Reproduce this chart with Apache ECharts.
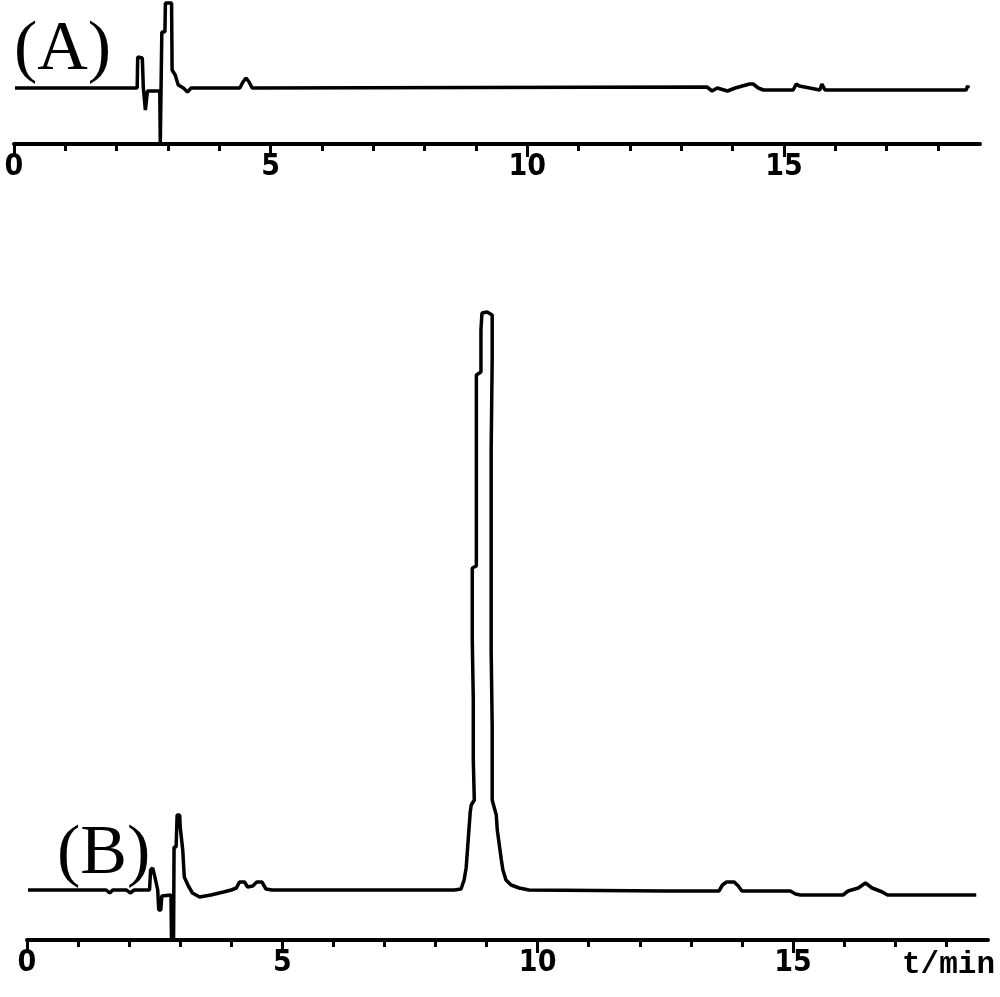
<!DOCTYPE html>
<html>
<head>
<meta charset="utf-8">
<script src="https://cdn.jsdelivr.net/npm/echarts@6/dist/echarts.min.js"></script>
<style>html,body{margin:0;padding:0;background:#fff;}#c{width:1000px;height:997px;}</style>
</head>
<body>
<div id="c"></div>
<script>
// Tick values (min)
var majorTicks = [0, 5, 10, 15];
var minorTicks = [0,1,2,3,4,5,6,7,8,9,10,11,12,13,14,15,16,17,18];

// Chromatogram A: retention time (min) and detector response (arb. units)
var timeA = [0.02,2.40,2.41,2.50,2.52,2.55,2.56,2.59,2.60,2.84,2.85,2.87,2.88,2.94,2.95,3.07,3.08,3.14,3.20,3.30,3.38,3.45,4.40,4.46,4.52,4.58,4.64,13.5,13.6,13.7,13.9,14.05,14.33,14.4,14.5,14.6,15.18,15.24,15.3,15.7,15.74,15.8,18.55,18.58,18.6];
var respA = [0,0,31,30,0,0,-22,-22,-3,-3,-56,-56,56,56,85,85,18,13,3,0,-4,0,0,6,10,6,0,1,-3,0,-3,0,4,4,0,-2,-2,4,2,-2,4,-2,-2,2,0];

// Chromatogram B
var timeB = [0.02,1.55,1.62,1.68,1.95,2.02,2.10,2.40,2.42,2.46,2.50,2.53,2.56,2.58,2.62,2.64,2.82,2.83,2.87,2.88,2.92,2.94,2.99,3.00,3.05,3.08,3.16,3.24,3.38,3.60,3.85,4.00,4.10,4.16,4.26,4.32,4.42,4.50,4.60,4.68,4.80,
  8.37,8.50,8.56,8.60,8.64,8.68,8.70,8.76,8.74,8.74,8.72,8.72,8.80,8.80,8.80,8.89,8.89,8.91,9.01,9.11,9.11,9.09,9.09,9.09,9.11,9.11,9.19,9.21,9.29,9.32,9.38,9.48,9.64,9.83,
  12.5,13.55,13.62,13.70,13.85,13.93,14.00,14.95,15.05,15.15,15.98,16.08,16.28,16.42,16.55,16.75,16.85,18.59];
var respB = [0,0,-3,0,0,-3,0,0,20,22,14,12,0,-20,-20,-6,-5,-50,-50,43,43,75,75,63,40,13,4,-3,-7,-5,-2,0,2,8,8,3,4,8,8,1,0,
  0,1,10,22,50,78,85,90,130,190,250,322,324,410,515,518,560,577,578,575,530,440,340,240,165,90,75,60,30,20,10,5,2,0,
  -1,-1,5,8,8,4,-1,-1,-4,-5,-5,-1,2,7,2,-2,-5,-5];

function pairs(t, v) { return t.map(function (x, i) { return [x, v[i]]; }); }

var tickFont = { color: '#000', fontFamily: 'DejaVu Sans Condensed, DejaVu Sans', fontWeight: 'bold', fontSize: 30 };

function mainAxis(gi) {
  return {
    type: 'value', gridIndex: gi, position: 'bottom', min: 0, max: 18.82,
    axisLine: { show: true, onZero: false, lineStyle: { color: '#000', width: 4 } },
    axisTick: { show: true, customValues: minorTicks, length: 7, lineStyle: { color: '#000', width: 3 } },
    axisLabel: Object.assign({ show: true, customValues: majorTicks, margin: 8 }, tickFont),
    splitLine: { show: false }, minorTick: { show: false }
  };
}
function majorAxis(gi) {
  return {
    type: 'value', gridIndex: gi, position: 'bottom', offset: 0, min: 0, max: 18.82,
    axisLine: { show: false, onZero: false },
    axisTick: { show: true, customValues: majorTicks, length: 13, lineStyle: { color: '#000', width: 3 } },
    axisLabel: { show: false }, splitLine: { show: false }
  };
}

var option = {
  animation: false,
  backgroundColor: '#fff',
  grid: [
    { left: 14, right: 20, top: 0, height: 144 },
    { left: 27, right: 12, top: 300, height: 640 }
  ],
  xAxis: [mainAxis(0), majorAxis(0), mainAxis(1), majorAxis(1)],
  yAxis: [
    { type: 'value', gridIndex: 0, min: -56, max: 88, show: false, splitLine: { show: false } },
    { type: 'value', gridIndex: 1, min: -50, max: 590, show: false, splitLine: { show: false } }
  ],
  graphic: [
    { type: 'text', left: 14, top: 16, style: { text: '(A)', fontFamily: 'Liberation Serif', fontSize: 70, fill: '#000' } },
    { type: 'text', left: 57, top: 820, style: { text: '(B)', fontFamily: 'Liberation Serif', fontSize: 70, fill: '#000' } },
    { type: 'text', left: 902, top: 950, style: { text: 't/min', fontFamily: 'Liberation Mono', fontWeight: 'bold', fontSize: 31, fill: '#000' } }
  ],
  series: [
    { type: 'line', xAxisIndex: 0, yAxisIndex: 0, data: pairs(timeA, respA), showSymbol: false, clip: false,
      lineStyle: { color: '#000', width: 3.5 } },
    { type: 'line', xAxisIndex: 2, yAxisIndex: 1, data: pairs(timeB, respB), showSymbol: false, clip: false,
      lineStyle: { color: '#000', width: 3.5 } }
  ]
};
var chart = echarts.init(document.getElementById('c'));
chart.setOption(option);
</script>
</body>
</html>
